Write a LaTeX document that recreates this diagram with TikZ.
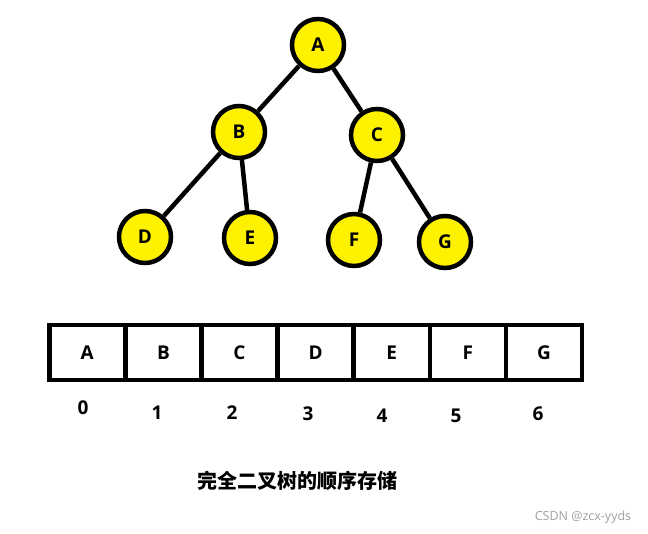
\documentclass[tikz,border=0pt]{standalone}
\usepackage{fontspec}
\setmainfont{Open Sans}
\newfontfamily\cjkfont{Noto Sans CJK SC}
\definecolor{nodeyellow}{RGB}{255,242,0}
\definecolor{wmgray}{RGB}{160,160,160}
\begin{document}
\begin{tikzpicture}[x=1pt,y=-1pt,
  treenode/.style={circle,draw=black,fill=nodeyellow,line width=4.5pt,minimum size=52pt,inner sep=0pt,font=\bfseries\fontsize{19}{19}\selectfont},
  edge/.style={line width=4.5pt,draw=black},
  cell/.style={draw=black,line width=4.5pt,minimum width=76.1pt,minimum height=55pt,inner sep=0pt,anchor=north west,font=\bfseries\fontsize{19}{19}\selectfont},
  idx/.style={font=\bfseries\fontsize{19}{19}\selectfont}]
\useasboundingbox (0,0) rectangle (648,534);
\node[treenode] (A) at (318,45) {A};
\node[treenode] (B) at (239,132) {B};
\node[treenode] (C) at (377,135) {C};
\node[treenode] (D) at (145,237) {D};
\node[treenode] (E) at (250,238) {E};
\node[treenode] (F) at (354,240) {F};
\node[treenode] (G) at (445,242) {G};
\draw[edge] (A) -- (B);
\draw[edge] (A) -- (C);
\draw[edge] (B) -- (D);
\draw[edge] (B) -- (E);
\draw[edge] (C) -- (F);
\draw[edge] (C) -- (G);
\foreach \l [count=\i from 0] in {A,B,C,D,E,F,G} {
  \node[cell] (c\i) at ({47+76.1*\i},323) {\l};
}
\node[idx] (i0) at (83,408) {0};
\node[idx] (i1) at (157,413) {1};
\node[idx] (i2) at (232,413) {2};
\node[idx] (i3) at (308,414) {3};
\node[idx] (i4) at (382,416) {4};
\node[idx] (i5) at (456,416) {5};
\node[idx] (i6) at (538,414) {6};
\node[font=\cjkfont\bfseries\fontsize{20}{20}\selectfont] (cap) at (297,481) {完全二叉树的顺序存储};
\node[font=\fontsize{12.5}{13}\selectfont,text=wmgray] (wm) at (583,517) {CSDN @zcx-yyds};
\end{tikzpicture}
\end{document}
